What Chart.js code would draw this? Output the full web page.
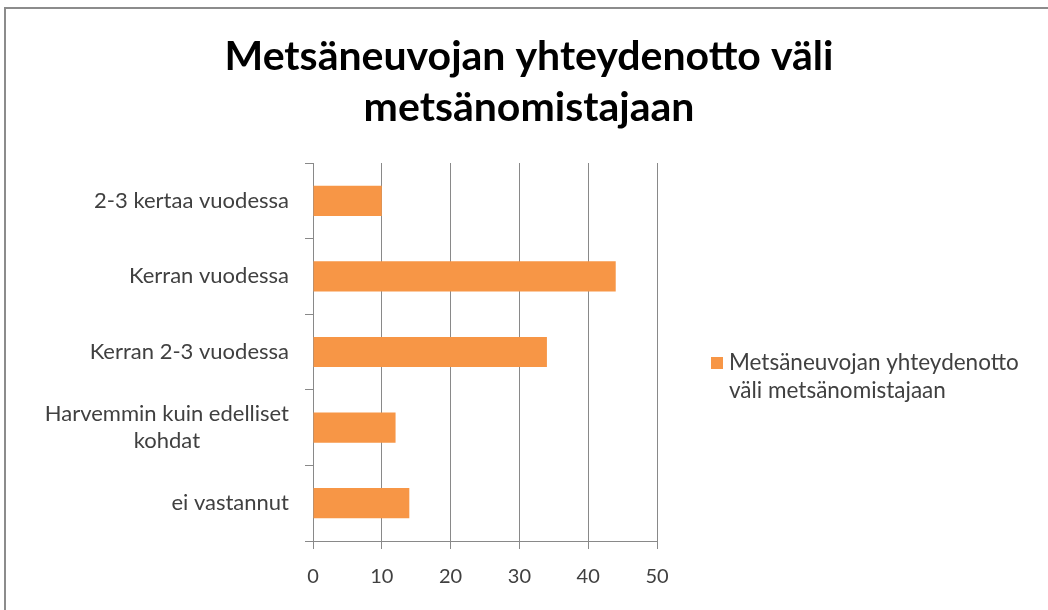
<!DOCTYPE html>
<html>
<head>
<meta charset="utf-8">
<script src="https://cdn.jsdelivr.net/npm/chart.js@4/dist/chart.umd.min.js"></script>
<style>
html,body{margin:0;padding:0;background:#fff;}
#wrap{width:1048px;height:610px;}
</style>
</head>
<body>
<div id="wrap"><canvas id="c" width="1048" height="610"></canvas></div>
<script>
const titleLines = ["Metsäneuvojan yhteydenotto väli", "metsänomistajaan"];
const categories = ["2-3 kertaa vuodessa", "Kerran vuodessa", "Kerran 2-3 vuodessa", ["Harvemmin kuin edelliset", "kohdat"], "ei vastannut"];
const seriesName = "Metsäneuvojan yhteydenotto väli metsänomistajaan";
const legendLines = ["Metsäneuvojan yhteydenotto", "väli metsänomistajaan"];
const values = [10, 44, 34, 12, 14];
const xTicks = [0, 10, 20, 30, 40, 50];

const FONT = "Lato, 'Open Sans', sans-serif";
const TEXT = "#404040";
const GRID = "#898989";
const BAR = "#F79646";

const frame = {
  id: 'frame',
  beforeDraw(chart) {
    const ctx = chart.ctx;
    ctx.save();
    ctx.fillStyle = '#fff';
    ctx.fillRect(0, 0, chart.width, chart.height);
    ctx.strokeStyle = '#8c8c8c';
    ctx.lineWidth = 2;
    ctx.strokeRect(5, 8, chart.width + 20, chart.height + 20);
    ctx.restore();
  }
};

const titlePlugin = {
  id: 'titleText',
  afterDraw(chart) {
    const ctx = chart.ctx;
    ctx.save();
    ctx.font = "bold 41px " + FONT;
    ctx.fillStyle = '#000';
    ctx.textAlign = 'center';
    ctx.textBaseline = 'middle';
    titleLines.forEach((l, j) => ctx.fillText(l, 529, 57 + j * 51));
    ctx.restore();
  }
};

const yLabels = {
  id: 'yLabels',
  afterDraw(chart) {
    const ctx = chart.ctx;
    const y = chart.scales.y;
    const right = chart.chartArea.left - 24;
    ctx.save();
    ctx.font = "22px " + FONT;
    ctx.fillStyle = TEXT;
    ctx.textBaseline = 'middle';
    ctx.textAlign = 'center';
    chart.data.labels.forEach((lab, i) => {
      const lines = Array.isArray(lab) ? lab : [lab];
      const w = Math.max(...lines.map(l => ctx.measureText(l).width));
      const cx = right - w / 2;
      const py = y.getPixelForTick(i);
      lines.forEach((l, j) => {
        ctx.fillText(l, cx, py + (j - (lines.length - 1) / 2) * 27);
      });
    });
    ctx.restore();
  }
};

const legendPlugin = {
  id: 'legendBox',
  afterDraw(chart) {
    const ctx = chart.ctx;
    const x0 = chart.chartArea.right + 54;
    const yMid = (chart.chartArea.top + chart.chartArea.bottom) / 2;
    ctx.save();
    ctx.fillStyle = chart.data.datasets[0].backgroundColor;
    ctx.fillRect(x0, yMid + 5, 12, 12);
    ctx.font = "22.5px " + FONT;
    ctx.fillStyle = TEXT;
    ctx.textBaseline = 'middle';
    ctx.textAlign = 'left';
    legendLines.forEach((l, j) => ctx.fillText(l, x0 + 18, yMid + 11 + j * 28));
    ctx.restore();
  }
};

new Chart(document.getElementById('c'), {
  type: 'bar',
  data: {
    labels: categories,
    datasets: [{
      label: seriesName,
      data: values,
      backgroundColor: BAR,
      borderWidth: 0,
      barPercentage: 0.4,
      categoryPercentage: 1.0
    }]
  },
  options: {
    indexAxis: 'y',
    responsive: false,
    animation: false,
    devicePixelRatio: 1,
    layout: { padding: { left: 10, right: 391, top: 163, bottom: 0 } },
    plugins: {
      legend: { display: false },
      tooltip: { enabled: false },
      title: { display: false }
    },
    scales: {
      x: {
        min: 0, max: 50,
        afterBuildTicks(scale) { scale.ticks = xTicks.map(v => ({ value: v })); },
        afterFit(scale) { scale.height = 69; },
        grid: { color: GRID, lineWidth: 1, drawTicks: true, tickLength: 8, tickColor: GRID },
        border: { display: true, color: GRID, width: 1 },
        ticks: { color: TEXT, font: { family: FONT, size: 20 }, padding: 16 }
      },
      y: {
        afterFit(scale) { scale.width = 303; },
        grid: { drawOnChartArea: false, drawTicks: true, tickLength: 8, tickColor: GRID, offset: true },
        border: { display: true, color: GRID, width: 1 },
        ticks: { display: false }
      }
    }
  },
  plugins: [frame, titlePlugin, yLabels, legendPlugin]
});
</script>
</body>
</html>
